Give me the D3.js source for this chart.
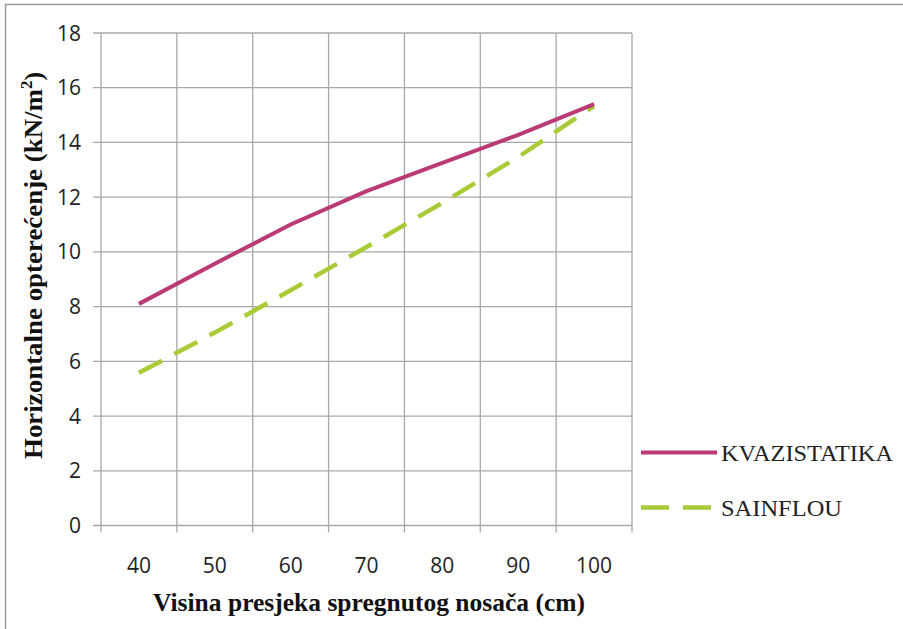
<!DOCTYPE html>
<html><head><meta charset="utf-8">
<script src="https://cdn.jsdelivr.net/npm/d3@7/dist/d3.min.js"></script>
<style>body{margin:0;background:#fff}svg{display:block}</style>
</head><body>
<script>
const categories = [40, 50, 60, 70, 80, 90, 100];
const kvazistatika = [8.1, 9.57, 11.0, 12.22, 13.25, 14.28, 15.4];
const sainflou = [5.58, 7.05, 8.6, 10.18, 11.79, 13.47, 15.33];
const seriesNames = ["KVAZISTATIKA", "SAINFLOU"];
const yTicks = [0, 2, 4, 6, 8, 10, 12, 14, 16, 18];

const W = 903, H = 629;
const svg = d3.select("body").append("svg").attr("width", W).attr("height", H);
svg.append("rect").attr("x", 5.5).attr("y", 4.5).attr("width", W + 10).attr("height", H + 10)
  .attr("fill", "#fff").attr("stroke", "#9a9a9a").attr("stroke-width", 1.5);

const pLeft = 101, pRight = 632, pTop = 33, pBottom = 525.5;
const x = d3.scaleBand().domain(categories).range([pLeft, pRight]);
const y = d3.scaleLinear().domain([0, 18]).range([pBottom, pTop]);
const grid = "#a8a8a8";
const sans = "'Open Sans', 'Noto Sans', sans-serif";
const serif = "'Liberation Serif', 'Times New Roman', serif";

svg.append("g").selectAll("line").data(yTicks).join("line")
  .attr("x1", pLeft - 8).attr("x2", pRight).attr("y1", d => y(d)).attr("y2", d => y(d))
  .attr("stroke", grid).attr("stroke-width", 1.3);
const bounds = categories.map(c => x(c)).concat([pRight]);
svg.append("g").selectAll("line").data(bounds).join("line")
  .attr("x1", d => d).attr("x2", d => d).attr("y1", pTop).attr("y2", pBottom + 7)
  .attr("stroke", grid).attr("stroke-width", 1.3);

svg.append("g").selectAll("text").data(yTicks).join("text")
  .attr("x", 81).attr("y", d => y(d)).attr("dy", "0.36em").attr("text-anchor", "end")
  .attr("font-family", sans).attr("font-size", 21).attr("fill", "#222")
  .text(d => d);
svg.append("g").selectAll("text").data(categories).join("text")
  .attr("x", d => x(d) + x.bandwidth() / 2).attr("y", 565).attr("dy", "0.36em").attr("text-anchor", "middle")
  .attr("font-family", sans).attr("font-size", 21).attr("fill", "#222")
  .text(d => d);

const line = d3.line().x((d, i) => x(categories[i]) + x.bandwidth() / 2).y(d => y(d));
const pink = "#b93a75", green = "#aacb38";
svg.append("path").datum(sainflou).attr("d", line).attr("fill", "none")
  .attr("stroke", green).attr("stroke-width", 4.5).attr("stroke-dasharray", "26,14");
svg.append("path").datum(kvazistatika).attr("d", line).attr("fill", "none")
  .attr("stroke", pink).attr("stroke-width", 4);

const lg = svg.append("g");
const legendY = [452.5, 507.5];
const legendLen = [172, 121];
lg.selectAll("line").data(seriesNames).join("line")
  .attr("x1", 641).attr("x2", 717).attr("y1", (d, i) => legendY[i]).attr("y2", (d, i) => legendY[i])
  .attr("stroke", (d, i) => i === 0 ? pink : green).attr("stroke-width", (d, i) => i === 0 ? 4 : 4.5)
  .attr("stroke-dasharray", (d, i) => i === 0 ? null : "28,14");
lg.selectAll("text").data(seriesNames).join("text")
  .attr("x", 721).attr("y", (d, i) => legendY[i] + 8)
  .attr("font-family", serif).attr("font-size", 23).attr("fill", "#222")
  .attr("textLength", (d, i) => legendLen[i]).attr("lengthAdjust", "spacingAndGlyphs")
  .text(d => d);

svg.append("text").attr("x", 153).attr("y", 611)
  .attr("font-family", serif).attr("font-weight", "bold")
  .attr("font-size", 25).attr("fill", "#111")
  .attr("textLength", 432).attr("lengthAdjust", "spacingAndGlyphs")
  .text("Visina presjeka spregnutog nosača (cm)");
const yt = svg.append("text").attr("transform", "translate(42,459) rotate(-90)")
  .attr("font-family", serif).attr("font-weight", "bold")
  .attr("font-size", 26).attr("fill", "#111");
yt.append("tspan").attr("textLength", 370).attr("lengthAdjust", "spacingAndGlyphs").text("Horizontalne opterećenje (kN/m");
yt.append("tspan").attr("dy", -10).attr("font-size", 17).text("2");
yt.append("tspan").attr("dy", 10).text(")");
</script>
</body></html>
